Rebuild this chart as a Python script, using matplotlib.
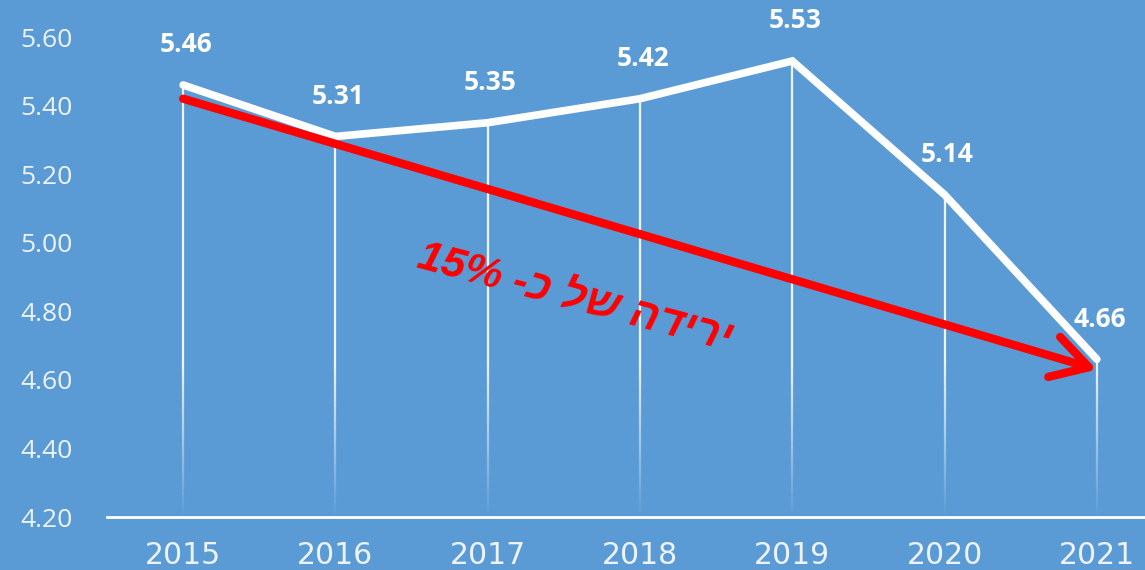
import numpy as np
import matplotlib.pyplot as plt
from matplotlib.collections import LineCollection

# data
years = ["2015", "2016", "2017", "2018", "2019", "2020", "2021"]
values = [5.46, 5.31, 5.35, 5.42, 5.53, 5.14, 4.66]
y_ticks = [4.20, 4.40, 4.60, 4.80, 5.00, 5.20, 5.40, 5.60]

# trend arrow (start / end value), annotation text in visual (LTR) order
trend_start = 5.42
trend_end = 4.63
trend_text = "15% -כ לש הדירי"  # "ירידה של כ- 15%"

BLUE = "#5B9BD5"
WHITE = "#FFFFFF"
LIGHT = "#EEF3FA"

fig = plt.figure(figsize=(11.45, 5.7), dpi=100, facecolor=BLUE)
ax = fig.add_axes([107 / 1145, 53 / 570, 1066 / 1145, 480 / 570])
ax.set_facecolor(BLUE)

x = np.arange(len(years))

# drop lines fading toward the bottom
for xi, v in zip(x, values):
    ys = np.linspace(y_ticks[0], v, 80)
    segs = [[(xi, ys[i]), (xi, ys[i + 1])] for i in range(len(ys) - 1)]
    mid = (ys[:-1] + ys[1:]) / 2
    alpha = np.clip((mid - y_ticks[0]) / 0.45, 0, 1) * 0.9
    colors = [(1, 1, 1, a) for a in alpha]
    ax.add_collection(LineCollection(segs, colors=colors, linewidths=1.6, zorder=1))

# main line
ax.plot(x, values, color=WHITE, lw=5.5, solid_capstyle="round",
        solid_joinstyle="miter", zorder=3)

# data labels
for xi, v in zip(x, values):
    ax.annotate(f"{v:.2f}", (xi, v), xytext=(2, 29), textcoords="offset points",
                ha="center", va="center", color=WHITE, fontsize=19,
                fontweight="bold", family="Open Sans", zorder=5)

# red trend arrow
ax.annotate("", xy=(x[-1], trend_end), xytext=(x[0], trend_start),
            arrowprops=dict(arrowstyle="->,head_length=1.3,head_width=0.75",
                            lw=6, color="#FF0000", shrinkA=0, shrinkB=0,
                            mutation_scale=20, capstyle="round",
                            joinstyle="round"),
            zorder=4)

ax.text(2.57, 4.835, trend_text, color="#FF0000", fontsize=31,
        fontweight="bold", fontstyle="italic", family="Liberation Sans",
        rotation=-15, rotation_mode="anchor", ha="center", va="center",
        zorder=5)

# axes styling
ax.set_xlim(-0.5, len(years) - 0.5)
ax.set_ylim(y_ticks[0], y_ticks[-1])
ax.set_xticks(x)
ax.set_xticklabels(years, family="DejaVu Sans", fontsize=21.5, color=LIGHT)
ax.set_yticks(y_ticks)
ax.set_yticklabels([f"{t:.2f}" for t in y_ticks], family="Open Sans",
                   fontsize=19, color=LIGHT)
ax.tick_params(axis="x", length=0, pad=17)
ax.tick_params(axis="y", length=0, pad=25)
for s in ["left", "right", "top"]:
    ax.spines[s].set_visible(False)
ax.spines["bottom"].set_color(WHITE)
ax.spines["bottom"].set_linewidth(2)
ax.spines["bottom"].set_zorder(6)

fig.savefig("out.png", dpi=100, facecolor=BLUE)
